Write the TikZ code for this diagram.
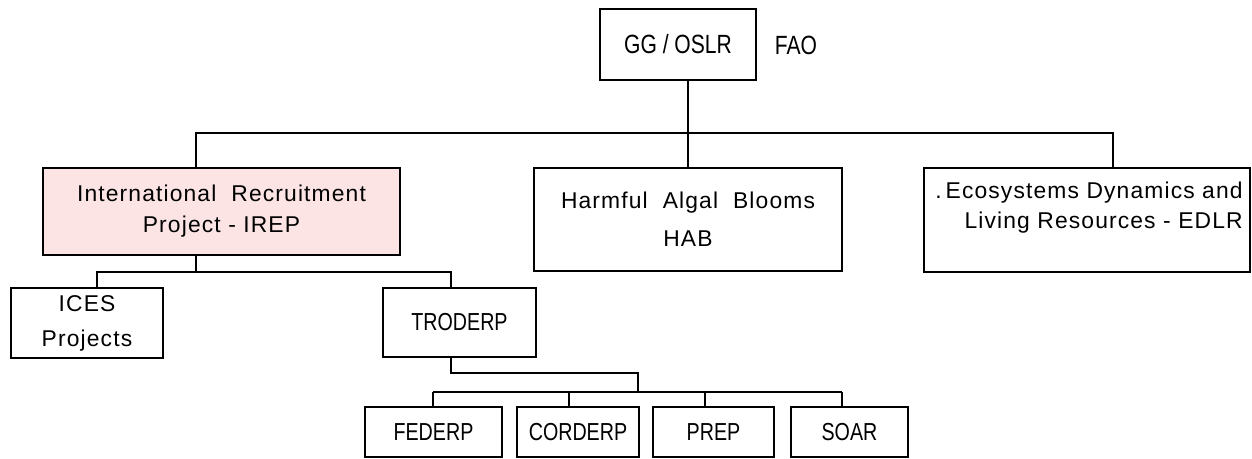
\documentclass[tikz,border=0pt]{standalone}
\usepackage{fontspec}
\setmainfont{Liberation Sans}
\newfontfamily\narrowfont{Liberation Sans}[FakeStretch=0.8]
\newfontfamily\spacedfont{Liberation Sans}[LetterSpace=5]
\usetikzlibrary{positioning}
\definecolor{irepfill}{HTML}{FCE4E4}
\tikzset{
  unit/.style={draw=black,line width=1pt,align=center,inner sep=2pt,
    font=\spacedfont\fontsize{13}{17.6}\selectfont},
  subunit/.style={draw=black,line width=1pt,align=center,inner sep=2pt,
    font=\narrowfont\fontsize{14}{17}\selectfont},
  link/.style={draw=black,line width=1pt},
  tag/.style={font=\narrowfont\fontsize{15}{18}\selectfont,inner sep=0pt}
}
\begin{document}
\begin{tikzpicture}[x=0.02cm,y=-0.02cm]
  \useasboundingbox (0,0) rectangle (1252,458);
  \node[subunit,font=\narrowfont\fontsize{15}{18}\selectfont,
    minimum width=3.12cm,minimum height=1.42cm] (gg) at (678,44.5) {GG / OSLR};
  \node[tag] (fao) at (796,45) {FAO};
  \node[unit,fill=irepfill,minimum width=7.14cm,minimum height=1.74cm] (irep) at (221.5,211.5)
    {International~ Recruitment\\Project - IREP};
  \node[unit,font=\spacedfont\fontsize{13}{21.6}\selectfont,
    minimum width=6.16cm,minimum height=2.06cm] (hab) at (688,219.5)
    {Harmful~ Algal~ Blooms\\HAB};
  \node[unit,minimum width=6.52cm,minimum height=2.08cm] (edlr) at (1087,220) {};
  \node[font=\spacedfont\fontsize{13}{17}\selectfont,align=right,anchor=north east,
    inner sep=0pt] (edlrtext) at (1243,182)
    {.\,Ecosystems Dynamics and\\Living Resources - EDLR};
  \node[unit,font=\spacedfont\fontsize{13}{20}\selectfont,
    minimum width=3.04cm,minimum height=1.4cm] (ices) at (87,323) {ICES\\Projects};
  \node[subunit,minimum width=3.06cm,minimum height=1.38cm] (troderp) at (459.5,322.5) {TRODERP};
  \foreach \n/\t/\x/\w in {federp/FEDERP/433.5/2.74,corderp/CORDERP/578/2.44,
      prep/PREP/713.5/2.42,soar/SOAR/849.5/2.34}
    \node[subunit,minimum width=\w cm,minimum height=1cm] (\n) at (\x,432) {\t};

  \coordinate (busL) at (196,133);
  \coordinate (busR) at (1113,133);
  \coordinate (subL) at (97,272);
  \coordinate (subR) at (451,272);
  \coordinate (kneeA) at (451,373);
  \coordinate (kneeB) at (638,373);
  \coordinate (dropA) at (433,392);
  \coordinate (dropB) at (569,392);
  \coordinate (dropC) at (705,392);
  \coordinate (dropD) at (842,392);

  \draw[link] (hab.north |- gg.south) -- (hab.north);
  \draw[link] (busL |- irep.north) -- (busL) -- (busR) -- (busR |- edlr.north);
  \draw[link] (busL |- irep.south) -- (busL |- subL);
  \draw[link] (subL |- ices.north) -- (subL) -- (subR) -- (subR |- troderp.north);
  \draw[link] (kneeA |- troderp.south) -- (kneeA) -- (kneeB) -- (kneeB |- dropA);
  \draw[link] (dropA) -- (dropD);
  \draw[link] (dropA) -- (dropA |- federp.north);
  \draw[link] (dropB) -- (dropB |- corderp.north);
  \draw[link] (dropC) -- (dropC |- prep.north);
  \draw[link] (dropD) -- (dropD |- soar.north);
\end{tikzpicture}
\end{document}
